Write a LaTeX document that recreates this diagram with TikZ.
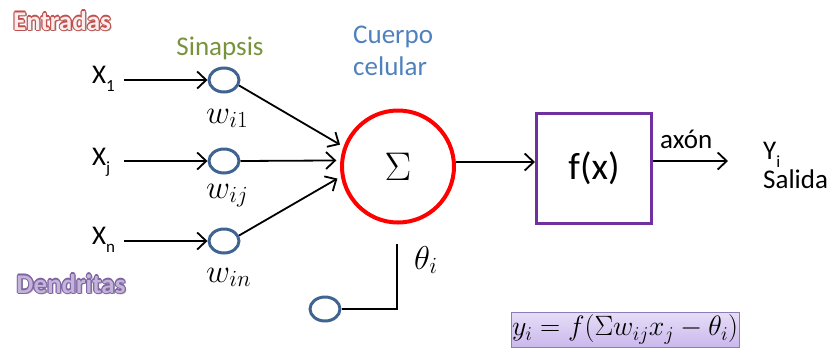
\RequirePackage{fix-cm}
\documentclass[tikz,border=0pt]{standalone}
\usepackage[no-math]{fontspec}
\setmainfont{Carlito}
\usetikzlibrary{arrows.meta,calc,shapes.geometric}
\definecolor{entred}{HTML}{C0504D}
\definecolor{entfill}{HTML}{FBEDED}
\definecolor{singreen}{HTML}{77933C}
\definecolor{denpurple}{HTML}{8064A2}
\definecolor{denfill}{HTML}{C3B4DA}
\definecolor{cuerpoblue}{HTML}{4F81BD}
\definecolor{synblue}{HTML}{3F6491}
\definecolor{boxpurple}{HTML}{7030A0}
\definecolor{fmlborder}{HTML}{8E7CB8}
\definecolor{fmltop}{HTML}{E6DEF7}
\definecolor{fmlbot}{HTML}{CAB8EC}
\newcommand{\tsub}[1]{\raisebox{-0.3em}{\fontsize{17}{17}\selectfont #1}}
\newcommand{\outlinedtext}[5]{%
  \node[otext, text=black!35] at ($(#2)+(1.6pt,-1.6pt)$) {#5};
  \foreach \ang in {0,45,...,315}
    \node[otext, text=#3] at ($(#2)+(\ang:1.1pt)$) {#5};
  \node[otext, text=#4] (#1) at (#2) {#5};}
\tikzset{
  lbl/.style={inner sep=0pt, anchor=base west, font=\fontsize{27}{30}\selectfont},
  otext/.style={inner sep=0pt, anchor=base, font=\fontsize{27}{30}\selectfont\bfseries},
  mlbl/.style={inner sep=0pt, anchor=base west, font=\fontsize{33}{35}\selectfont},
  syn/.style={ellipse, draw=synblue, line width=3pt, minimum width=30pt, minimum height=24pt, inner sep=0pt},
  wire/.style={line width=1.8pt, draw=black},
  arr/.style={wire, -{Straight Barb[length=9pt,width=17pt,line width=1.8pt]}},
}
\begin{document}
\begin{tikzpicture}[x=1pt,y=-1pt]
\useasboundingbox (0,0) rectangle (830,349);

% titles
\outlinedtext{entradas}{62,30}{entred}{entfill}{Entradas}
\outlinedtext{dendritas}{71,293}{denpurple}{denfill}{Dendritas}
\node[lbl, anchor=base, text=singreen] (sinapsis) at (220,55) {Sinapsis};
\node[lbl, text=cuerpoblue] (cuerpo) at (353,43) {Cuerpo};
\node[lbl, text=cuerpoblue] (celular) at (353,75) {celular};

% inputs
\node[lbl] (x1) at (92,83) {X\tsub{1}};
\node[lbl] (xj) at (92,165) {X\tsub{j}};
\node[lbl] (xn) at (92,244) {X\tsub{n}};
\coordinate (x1e) at (124,80);
\coordinate (xje) at (124,161);
\coordinate (xne) at (124,241);

% synapses
\node[syn] (s1) at (224,80) {};
\node[syn] (s2) at (224,161) {};
\node[syn] (s3) at (224,241) {};
\node[syn] (bias) at (325,309) {};

\node[mlbl] (w1) at (206,123) {$w_{i1}$};
\node[mlbl] (w2) at (206,198) {$w_{ij}$};
\node[mlbl] (w3) at (206,282) {$w_{in}$};

% cell body
\node[circle, draw=red, line width=4pt, minimum size=112pt, inner sep=0pt,
      font=\fontsize{40}{42}\selectfont] (sigma) at (398,166.5) {$\Sigma$};

% activation box
\node[draw=boxpurple, line width=3pt, minimum width=115pt, minimum height=110pt,
      inner sep=0pt, font=\fontsize{38}{40}\selectfont] (fx) at (594,168.5) {f(x)};

% labels
\node[lbl] (axon) at (660,148) {axón};
\node[lbl] (yi) at (763,159) {Y\tsub{i}};
\node[lbl] (salida) at (763,188) {Salida};
\node[mlbl] (theta) at (414,269) {$\theta_i$};

% formula
\node[draw=fmlborder, line width=1pt, top color=fmltop, bottom color=fmlbot,
      minimum width=226pt, minimum height=35pt, inner sep=1pt,
      font=\fontsize{28}{30}\selectfont] (formula) at (625,329.5)
      {$y_i = f(\Sigma w_{ij}x_j - \theta_i)$};

% connectors
\draw[arr] (x1e) -- (s1.west);
\draw[arr] (xje) -- (s2.west);
\draw[arr] (xne) -- (s3.west);
\draw[arr, shorten >=4pt] (s1.-20) -- (sigma.160);
\draw[arr, shorten >=4pt] (s2.east) -- (sigma.174);
\draw[arr, shorten >=4pt] (s3.20) -- (sigma.190);

\coordinate (lvl) at (0,162);
\draw[arr] (sigma.east |- lvl) -- (fx.west |- lvl);
\coordinate (axend) at (728,161);
\draw[arr] (fx.east |- axend) -- (axend);

\coordinate (ttop) at (397,244);
\draw[wire] (ttop) |- (bias.east);
\end{tikzpicture}
\end{document}
